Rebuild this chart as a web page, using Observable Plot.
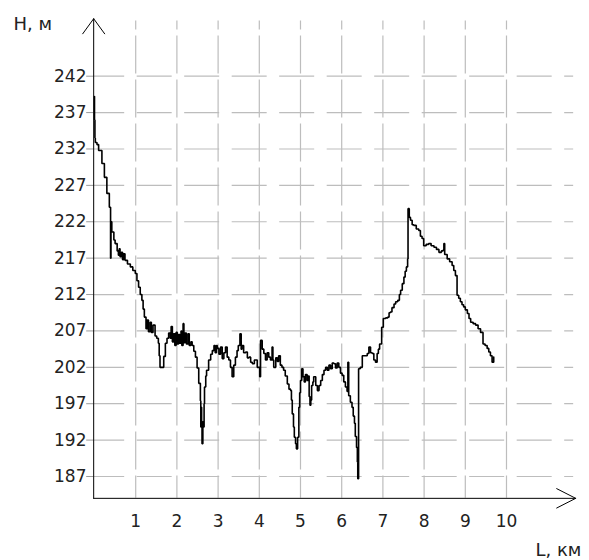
<!DOCTYPE html>
<html><head><meta charset="utf-8">
<script src="https://cdn.jsdelivr.net/npm/d3@7"></script>
<script src="https://cdn.jsdelivr.net/npm/@observablehq/plot@0.6"></script>
<style>html,body{margin:0;padding:0;background:#fff;} svg{display:block}</style>
</head><body><div id="chart"></div>
<script>
// Profile: distance along route (km) and height (m)
const distanceKm = [
  0.00,0.00,0.01,0.02,0.06,0.10,0.18,0.24,0.30,0.36,0.39,0.39,0.40,0.42,0.47,0.50,0.55,0.58,0.60,0.62,
  0.65,0.68,0.71,0.74,0.80,0.87,0.93,0.99,1.03,1.07,1.11,1.15,1.18,1.21,1.25,1.28,1.31,1.35,1.38,1.42,
  1.47,1.51,1.55,1.57,1.59,1.65,1.68,1.72,1.76,1.80,1.84,1.86,1.89,1.92,1.95,1.98,2.01,2.04,2.07,2.10,
  2.12,2.15,2.17,2.20,2.23,2.27,2.30,2.34,2.37,2.41,2.45,2.49,2.53,2.57,2.58,2.59,2.60,2.61,2.63,2.65,
  2.66,2.67,2.70,2.72,2.77,2.82,2.86,2.90,2.93,2.96,2.98,3.02,3.06,3.10,3.14,3.18,3.22,3.26,3.30,3.34,
  3.38,3.42,3.46,3.49,3.53,3.56,3.58,3.62,3.67,3.71,3.75,3.79,3.83,3.88,3.95,4.01,4.03,4.07,4.11,4.15,
  4.19,4.23,4.27,4.31,4.33,4.35,4.40,4.44,4.47,4.51,4.55,4.59,4.63,4.68,4.72,4.76,4.78,4.80,4.83,4.85,
  4.88,4.90,4.93,4.96,4.98,5.00,5.03,5.06,5.09,5.12,5.16,5.19,5.21,5.23,5.25,5.27,5.30,5.32,5.37,5.41,
  5.45,5.49,5.53,5.57,5.61,5.65,5.69,5.73,5.77,5.81,5.85,5.89,5.93,5.97,6.01,6.05,6.09,6.13,6.15,6.17,
  6.21,6.25,6.28,6.31,6.33,6.36,6.38,6.39,6.41,6.45,6.50,6.50,6.56,6.62,6.66,6.70,6.74,6.78,6.82,6.86,
  6.89,6.92,6.97,7.01,7.07,7.12,7.15,7.18,7.22,7.27,7.31,7.36,7.40,7.43,7.47,7.51,7.54,7.57,7.60,7.61,
  7.64,7.67,7.71,7.75,7.81,7.87,7.91,7.95,7.99,8.05,8.11,8.17,8.24,8.30,8.36,8.42,8.46,8.48,8.50,8.56,
  8.62,8.68,8.72,8.76,8.80,8.84,8.88,8.92,8.96,9.00,9.05,9.09,9.13,9.19,9.25,9.31,9.37,9.43,9.48,9.53,
  9.57,9.61,9.65,9.69
];
const heightM = [
  239.2,236.0,233.5,232.9,232.6,231.8,230.0,228.1,225.9,224.0,222.8,217.0,222.0,220.6,219.5,219.0,218.0,217.4,218.3,217.2,
  217.8,216.8,217.6,216.7,216.2,215.8,215.3,214.9,213.9,213.0,212.0,211.2,210.0,208.9,207.3,208.5,206.9,208.2,206.8,207.8,
  206.3,206.0,205.3,203.6,202.0,202.0,203.5,205.3,206.0,206.7,206.0,207.6,205.5,206.6,205.0,206.8,205.2,206.5,205.3,207.0,
  205.0,208.0,205.4,206.7,205.2,206.6,205.0,205.5,205.0,204.2,203.4,201.9,199.8,197.4,193.8,196.5,194.0,191.5,194.5,193.8,
  197.0,199.3,200.8,201.6,203.0,203.8,204.3,205.0,204.0,205.0,204.6,203.8,204.8,203.2,204.0,204.8,203.4,203.0,202.0,200.7,
  202.3,203.4,204.3,205.0,206.6,204.5,205.0,204.0,204.1,203.3,203.4,202.7,202.5,203.0,202.0,200.7,205.7,204.5,203.9,203.0,
  204.0,203.4,203.0,204.8,203.0,202.0,203.3,202.8,203.6,202.3,202.0,201.6,200.8,199.7,199.0,198.8,197.5,195.6,193.8,192.4,
  191.5,190.8,192.4,196.5,198.5,200.2,201.8,200.7,200.0,201.0,200.2,200.8,198.0,196.8,197.5,199.5,200.0,200.7,199.5,198.8,
  199.5,200.2,201.0,201.6,202.0,201.6,202.3,201.8,202.6,202.5,201.9,202.6,202.0,201.2,200.9,200.0,199.3,198.7,202.7,198.1,
  197.2,196.5,195.3,194.3,192.5,191.0,189.0,186.7,201.8,202.0,202.0,203.6,203.6,203.9,204.8,204.0,203.9,203.0,202.7,203.9,
  204.5,205.2,207.5,208.7,208.8,208.9,209.5,209.6,210.2,210.7,211.0,211.2,212.0,212.6,213.5,214.4,215.2,215.8,216.9,223.8,
  222.6,222.2,221.6,221.5,221.0,220.8,220.0,219.7,218.7,218.9,219.0,218.7,218.5,218.2,217.8,218.0,218.1,219.0,217.5,216.9,
  216.5,216.0,215.3,214.6,211.9,211.5,211.0,210.6,210.3,209.9,209.4,208.7,208.2,208.0,207.8,207.3,206.8,205.2,205.0,204.6,
  204.1,203.6,202.7,203.4
];
const xTicks = [1, 2, 3, 4, 5, 6, 7, 8, 9, 10];
const yTicks = [187, 192, 197, 202, 207, 212, 217, 222, 227, 232, 237, 242];
const xAxisLabel = "L, км";
const yAxisLabel = "H, м";

// axis extents (data units)
const xAxisStart = -0.02, xAxisEnd = 11.68;
const yAxisBottom = 184.0, yAxisTop = 249.9;
const gridTop = 249.6, gridRight = 11.63, tickStart = -0.19;

const profile = distanceKm.map((L, i) => ({L, H: heightM[i]}));

const chart = Plot.plot({
  width: 589,
  height: 560,
  marginLeft: 94,
  marginRight: 83,
  marginTop: 75.7,
  marginBottom: 84,
  x: {domain: [0, 10], axis: null},
  y: {domain: [187, 242], axis: null},
  style: {fontFamily: "DejaVu Sans", fontSize: "17px", background: "white", overflow: "visible", color: "#222"},
  marks: [
    // horizontal dashed grid
    Plot.ruleY(yTicks, {y: d => d, x1: xAxisStart, x2: gridRight, stroke: "#bdbdbd", strokeWidth: 1.2, strokeDasharray: "35,12.5", strokeDashoffset: 4}),
    // small solid ticks left of axis
    Plot.ruleY(yTicks, {y: d => d, x1: tickStart, x2: xAxisStart, stroke: "#9a9a9a", strokeWidth: 1}),
    // vertical dashed grid
    Plot.ruleX(xTicks, {x: d => d, y1: gridTop, y2: yAxisBottom, stroke: "#bdbdbd", strokeWidth: 1.2, strokeDasharray: "38,6", strokeDashoffset: 29}),
    // axes with arrowheads
    Plot.arrow([0], {x1: xAxisStart, y1: yAxisBottom, x2: xAxisStart, y2: yAxisTop, stroke: "black", strokeWidth: 1, headLength: 28, headAngle: 72}),
    Plot.arrow([0], {x1: xAxisStart, y1: yAxisBottom, x2: xAxisEnd, y2: yAxisBottom, stroke: "black", strokeWidth: 1, headLength: 32, headAngle: 54}),
    // profile line
    Plot.line(profile, {x: "L", y: "H", curve: "step-after", stroke: "black", strokeWidth: 1.6, strokeLinejoin: "miter"}),
    // tick labels
    Plot.text(yTicks, {x: 0, y: d => d, text: d => String(d), textAnchor: "end", dx: -8, fill: "#222"}),
    Plot.text(xTicks, {x: d => d, y: yAxisBottom, text: d => String(d), dy: 23, fill: "#222"}),
    // axis titles
    Plot.text([yAxisLabel], {frameAnchor: "top-left", text: d => d, textAnchor: "start", lineAnchor: "bottom", dx: -81, dy: -45.7, fill: "#222", fontSize: 18, letterSpacing: 1}),
    Plot.text([xAxisLabel], {frameAnchor: "bottom-right", text: d => d, textAnchor: "start", lineAnchor: "bottom", dx: 29, dy: 79, fill: "#222", fontSize: 18, letterSpacing: 1})
  ]
});
document.getElementById("chart").appendChild(chart);
</script>
</body></html>
